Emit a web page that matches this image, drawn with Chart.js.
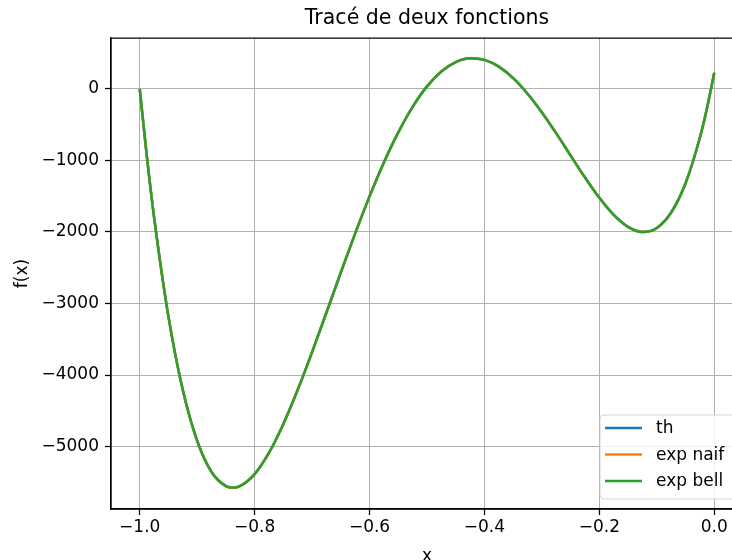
<!DOCTYPE html>
<html><head><meta charset="utf-8">
<script src="https://cdn.jsdelivr.net/npm/chart.js@4/dist/chart.umd.min.js"></script>
<style>
html,body{margin:0;padding:0;overflow:hidden;background:#fff;width:732px;height:560px}
#wrap{position:absolute;left:0;top:0;width:760px;height:580px}
</style>
</head><body><div id="wrap"><canvas id="c" width="760" height="580"></canvas></div>
<script>
const xValues = [-1.000, -0.9875, -0.975, -0.950, -0.925, -0.900, -0.875, -0.850, -0.8375, -0.825, -0.800, -0.775, -0.750, -0.725, -0.700, -0.675, -0.650, -0.625, -0.600, -0.575, -0.550, -0.525, -0.500, -0.475, -0.450, -0.425, -0.400, -0.375, -0.350, -0.325, -0.300, -0.275, -0.250, -0.225, -0.200, -0.175, -0.150, -0.125, -0.100, -0.075, -0.050, -0.025, -0.0125, 0.000];
const thValues = [0, -951, -1795, -3183, -4211, -4921, -5356, -5554, -5576, -5552, -5386, -5087, -4684, -4207, -3680, -3126, -2567, -2020, -1502, -1027, -607, -250, 36, 245, 377, 430, 407, 312, 151, -66, -328, -621, -931, -1238, -1522, -1761, -1929, -2000, -1943, -1727, -1318, -679, -261, 228];
const naifValues = [0, -951, -1795, -3183, -4211, -4921, -5356, -5554, -5576, -5552, -5386, -5087, -4684, -4207, -3680, -3126, -2567, -2020, -1502, -1027, -607, -250, 36, 245, 377, 430, 407, 312, 151, -66, -328, -621, -931, -1238, -1522, -1761, -1929, -2000, -1943, -1727, -1318, -679, -261, 228];
const bellValues = [0, -951, -1795, -3183, -4211, -4921, -5356, -5554, -5576, -5552, -5386, -5087, -4684, -4207, -3680, -3126, -2567, -2020, -1502, -1027, -607, -250, 36, 245, 377, 430, 407, 312, 151, -66, -328, -621, -931, -1238, -1522, -1761, -1929, -2000, -1943, -1727, -1318, -679, -261, 228];
const seriesLabels = ['th', 'exp naif', 'exp bell'];
const seriesColors = ['#1f77b4', '#ff7f0e', '#2ca02c'];
const xTickValues = [-1.0, -0.8, -0.6, -0.4, -0.2, 0.0];
const yTickValues = [-5000, -4000, -3000, -2000, -1000, 0];
const xRange = [-1.05, 0.05];
const yRange = [-5874, 713];
const titleText = 'Tracé de deux fonctions';
const xTitle = 'x';
const yTitle = 'f(x)';

const FONT = "'DejaVu Sans', 'Liberation Sans', sans-serif";
Chart.defaults.font.family = FONT;
Chart.defaults.color = '#000';

const minus = v => (v < 0 ? '\u2212' : '');
const fmtX = v => minus(v) + Math.abs(v).toFixed(1);
const fmtY = v => minus(v) + Math.abs(Math.round(v)).toString();

const seriesValues = [thValues, naifValues, bellValues];
const datasets = seriesValues.map((vals, i) => ({
  label: seriesLabels[i],
  data: xValues.map((x, j) => ({x: x, y: vals[j]})),
  borderColor: seriesColors[i],
  backgroundColor: seriesColors[i],
  borderWidth: 2.5,
  pointRadius: 0,
  fill: false,
  tension: 0,
  cubicInterpolationMode: 'monotone',
  order: seriesValues.length - 1 - i
}));

const framePlugin = {
  id: 'frame',
  afterDatasetsDraw(chart) {
    const a = chart.chartArea, ctx = chart.ctx;
    ctx.save();
    ctx.strokeStyle = '#000';
    ctx.lineWidth = 1.25;
    ctx.beginPath();
    ctx.moveTo(a.left, a.top);
    ctx.lineTo(a.right, a.top);
    ctx.lineTo(a.right, a.bottom);
    ctx.moveTo(a.left, a.top);
    ctx.lineTo(a.left, a.bottom);
    ctx.lineTo(a.right, a.bottom);
    ctx.stroke();
    ctx.restore();
  }
};

const legendPlugin = {
  id: 'innerLegend',
  afterDraw(chart) {
    const a = chart.chartArea, ctx = chart.ctx;
    const x0 = a.left + 489, y0 = a.bottom - 94, w = a.right - 7 - x0, h = 84, r = 4;
    ctx.save();
    ctx.beginPath();
    ctx.moveTo(x0 + r, y0);
    ctx.lineTo(x0 + w - r, y0);
    ctx.quadraticCurveTo(x0 + w, y0, x0 + w, y0 + r);
    ctx.lineTo(x0 + w, y0 + h - r);
    ctx.quadraticCurveTo(x0 + w, y0 + h, x0 + w - r, y0 + h);
    ctx.lineTo(x0 + r, y0 + h);
    ctx.quadraticCurveTo(x0, y0 + h, x0, y0 + h - r);
    ctx.lineTo(x0, y0 + r);
    ctx.quadraticCurveTo(x0, y0, x0 + r, y0);
    ctx.closePath();
    ctx.fillStyle = 'rgba(255,255,255,0.8)';
    ctx.fill();
    ctx.strokeStyle = 'rgba(204,204,204,0.8)';
    ctx.lineWidth = 1;
    ctx.stroke();
    ctx.font = '17px ' + FONT;
    ctx.textBaseline = 'middle';
    ctx.textAlign = 'left';
    chart.data.datasets.forEach((ds, i) => {
      const yy = y0 + 13 + i * 26.5;
      ctx.strokeStyle = ds.borderColor;
      ctx.lineWidth = 2.5;
      ctx.beginPath();
      ctx.moveTo(x0 + 5, yy);
      ctx.lineTo(x0 + 42, yy);
      ctx.stroke();
      ctx.fillStyle = '#000';
      ctx.fillText(ds.label, x0 + 56, yy + 1);
    });
    ctx.restore();
  }
};

new Chart(document.getElementById('c'), {
  type: 'line',
  data: { datasets: datasets },
  options: {
    responsive: false,
    animation: false,
    devicePixelRatio: 1,
    layout: { padding: { left: 0, top: 0, right: 17, bottom: 0 } },
    plugins: {
      legend: { display: false },
      tooltip: { enabled: false },
      title: {
        display: true,
        text: titleText,
        fullSize: false,
        color: '#000',
        font: { size: 20.5, weight: 'normal', family: FONT, lineHeight: 1.2 },
        padding: { top: 6, bottom: 7.4 }
      }
    },
    scales: {
      x: {
        type: 'linear',
        position: 'bottom',
        min: xRange[0],
        max: xRange[1],
        afterBuildTicks: s => { s.ticks = xTickValues.map(v => ({value: v})); },
        afterFit: s => { s.height = 71; },
        ticks: {
          autoSkip: false, maxRotation: 0, padding: 2,
          font: { size: 17, family: FONT },
          color: '#000',
          callback: v => fmtX(v)
        },
        grid: { color: '#b0b0b0', lineWidth: 1, tickLength: 6, tickColor: '#000', tickWidth: 1.25, drawTicks: true },
        border: { display: true, color: '#000', width: 1.25 },
        title: { display: true, text: xTitle, color: '#000', font: { size: 17, family: FONT, lineHeight: 1.2 }, padding: { top: 0, bottom: 13.5 } }
      },
      y: {
        type: 'linear',
        position: 'left',
        min: yRange[0],
        max: yRange[1],
        afterBuildTicks: s => { s.ticks = yTickValues.map(v => ({value: v})); },
        afterFit: s => { s.width = 111; },
        ticks: {
          autoSkip: false, padding: 6,
          font: { size: 17, family: FONT },
          color: '#000',
          callback: v => fmtY(v)
        },
        grid: { color: '#b0b0b0', lineWidth: 1, tickLength: 6, tickColor: '#000', tickWidth: 1.25, drawTicks: true },
        border: { display: true, color: '#000', width: 1.25 },
        title: { display: true, text: yTitle, color: '#000', font: { size: 17, family: FONT, lineHeight: 1.2 }, padding: { top: 12.5, bottom: 0 } }
      }
    }
  },
  plugins: [framePlugin, legendPlugin]
});
</script>
</body></html>
